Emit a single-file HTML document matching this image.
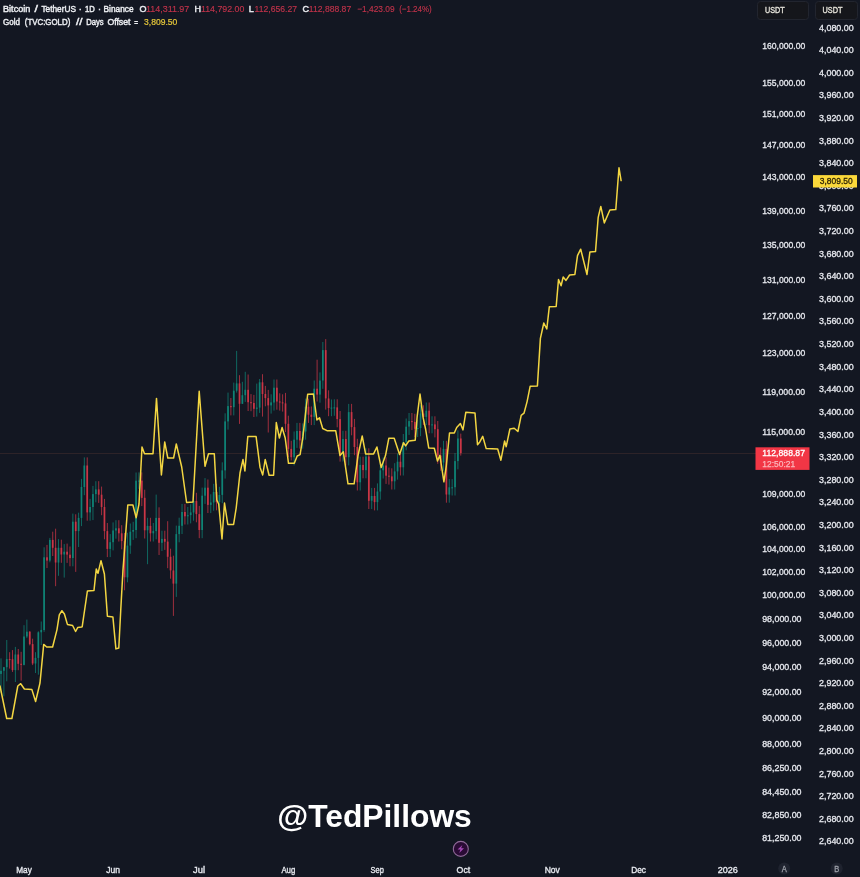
<!DOCTYPE html>
<html lang="en"><head><meta charset="utf-8"><title>BTC vs Gold</title>
<style>
html,body{margin:0;padding:0;background:#131722;}
body{width:860px;height:877px;overflow:hidden;}
svg{display:block;font-family:"Liberation Sans", "DejaVu Sans", sans-serif;}
.ax{font-size:9px;fill:#e6e8ee;stroke:#e6e8ee;stroke-width:0.3px;}
.tm{font-size:9px;fill:#e6e8ee;stroke:#e6e8ee;stroke-width:0.35px;}
.lg{font-size:9px;fill:#eceef2;stroke:#eceef2;stroke-width:0.45px;}
.rd{fill:#c0334a;stroke:#c0334a;stroke-width:0.15px;}
</style></head><body>
<svg width="860" height="877" viewBox="0 0 860 877">
<rect width="860" height="877" fill="#131722"/>

<line x1="0" y1="453.5" x2="756" y2="453.5" stroke="#c06a50" stroke-opacity="0.15" stroke-width="1"/>
<g id="candles" opacity="0.9"><path d="M1.01 658.4V692.9" stroke="#0f8f7f" stroke-width="0.75"/><rect x="0.16" y="670.8" width="1.7" height="3.1" fill="#0f8f7f"/>
<path d="M3.89 666.9V696.4" stroke="#0f8f7f" stroke-width="0.75"/><rect x="3.04" y="667.2" width="1.7" height="3.6" fill="#0f8f7f"/>
<path d="M6.76 640.0V681.3" stroke="#0f8f7f" stroke-width="0.75"/><rect x="5.91" y="659.1" width="1.7" height="8.1" fill="#0f8f7f"/>
<path d="M9.63 652.2V668.6" stroke="#e03a4b" stroke-width="0.75"/><rect x="8.78" y="659.1" width="1.7" height="1.0" fill="#e03a4b"/>
<path d="M12.51 650.1V671.9" stroke="#e03a4b" stroke-width="0.75"/><rect x="11.66" y="659.2" width="1.7" height="10.9" fill="#e03a4b"/>
<path d="M15.38 646.9V682.0" stroke="#0f8f7f" stroke-width="0.75"/><rect x="14.53" y="654.5" width="1.7" height="15.6" fill="#0f8f7f"/>
<path d="M18.25 649.0V670.2" stroke="#e03a4b" stroke-width="0.75"/><rect x="17.40" y="654.5" width="1.7" height="9.3" fill="#e03a4b"/>
<path d="M21.13 651.8V680.6" stroke="#e03a4b" stroke-width="0.75"/><rect x="20.28" y="663.8" width="1.7" height="1.0" fill="#e03a4b"/>
<path d="M24.00 625.2V665.4" stroke="#0f8f7f" stroke-width="0.75"/><rect x="23.15" y="636.5" width="1.7" height="28.4" fill="#0f8f7f"/>
<path d="M26.87 619.6V638.1" stroke="#0f8f7f" stroke-width="0.75"/><rect x="26.02" y="631.7" width="1.7" height="4.8" fill="#0f8f7f"/>
<path d="M29.75 631.1V645.4" stroke="#e03a4b" stroke-width="0.75"/><rect x="28.90" y="631.7" width="1.7" height="12.5" fill="#e03a4b"/>
<path d="M32.62 638.7V665.1" stroke="#e03a4b" stroke-width="0.75"/><rect x="31.77" y="644.1" width="1.7" height="19.4" fill="#e03a4b"/>
<path d="M35.49 652.2V673.0" stroke="#0f8f7f" stroke-width="0.75"/><rect x="34.64" y="657.9" width="1.7" height="5.6" fill="#0f8f7f"/>
<path d="M38.37 631.3V674.7" stroke="#0f8f7f" stroke-width="0.75"/><rect x="37.52" y="632.3" width="1.7" height="25.6" fill="#0f8f7f"/>
<path d="M41.24 621.5V645.0" stroke="#0f8f7f" stroke-width="0.75"/><rect x="40.39" y="629.9" width="1.7" height="2.4" fill="#0f8f7f"/>
<path d="M44.11 547.3V631.8" stroke="#0f8f7f" stroke-width="0.75"/><rect x="43.26" y="557.3" width="1.7" height="72.7" fill="#0f8f7f"/>
<path d="M46.99 544.9V568.0" stroke="#e03a4b" stroke-width="0.75"/><rect x="46.14" y="557.3" width="1.7" height="3.3" fill="#e03a4b"/>
<path d="M49.86 537.9V562.3" stroke="#0f8f7f" stroke-width="0.75"/><rect x="49.01" y="539.9" width="1.7" height="20.7" fill="#0f8f7f"/>
<path d="M52.73 531.7V556.0" stroke="#e03a4b" stroke-width="0.75"/><rect x="51.88" y="539.9" width="1.7" height="7.9" fill="#e03a4b"/>
<path d="M55.61 528.7V586.2" stroke="#e03a4b" stroke-width="0.75"/><rect x="54.76" y="547.8" width="1.7" height="14.7" fill="#e03a4b"/>
<path d="M58.48 539.1V575.8" stroke="#0f8f7f" stroke-width="0.75"/><rect x="57.63" y="547.8" width="1.7" height="14.7" fill="#0f8f7f"/>
<path d="M61.36 539.7V562.8" stroke="#e03a4b" stroke-width="0.75"/><rect x="60.51" y="547.8" width="1.7" height="6.7" fill="#e03a4b"/>
<path d="M64.23 544.1V577.6" stroke="#0f8f7f" stroke-width="0.75"/><rect x="63.38" y="551.7" width="1.7" height="2.8" fill="#0f8f7f"/>
<path d="M67.10 543.6V562.9" stroke="#e03a4b" stroke-width="0.75"/><rect x="66.25" y="551.7" width="1.7" height="2.9" fill="#e03a4b"/>
<path d="M69.98 546.5V566.3" stroke="#e03a4b" stroke-width="0.75"/><rect x="69.13" y="554.7" width="1.7" height="3.4" fill="#e03a4b"/>
<path d="M72.85 513.6V566.3" stroke="#0f8f7f" stroke-width="0.75"/><rect x="72.00" y="521.7" width="1.7" height="36.3" fill="#0f8f7f"/>
<path d="M75.72 514.3V571.9" stroke="#e03a4b" stroke-width="0.75"/><rect x="74.87" y="521.7" width="1.7" height="9.4" fill="#e03a4b"/>
<path d="M78.60 512.7V547.0" stroke="#0f8f7f" stroke-width="0.75"/><rect x="77.75" y="517.9" width="1.7" height="13.2" fill="#0f8f7f"/>
<path d="M81.47 478.9V526.1" stroke="#0f8f7f" stroke-width="0.75"/><rect x="80.62" y="487.0" width="1.7" height="30.9" fill="#0f8f7f"/>
<path d="M84.34 457.4V495.2" stroke="#0f8f7f" stroke-width="0.75"/><rect x="83.49" y="465.5" width="1.7" height="21.5" fill="#0f8f7f"/>
<path d="M87.22 457.4V520.7" stroke="#e03a4b" stroke-width="0.75"/><rect x="86.37" y="465.5" width="1.7" height="46.9" fill="#e03a4b"/>
<path d="M90.09 498.9V520.7" stroke="#0f8f7f" stroke-width="0.75"/><rect x="89.24" y="507.0" width="1.7" height="5.4" fill="#0f8f7f"/>
<path d="M92.96 485.9V520.1" stroke="#0f8f7f" stroke-width="0.75"/><rect x="92.11" y="494.1" width="1.7" height="12.9" fill="#0f8f7f"/>
<path d="M95.84 481.2V502.3" stroke="#0f8f7f" stroke-width="0.75"/><rect x="94.99" y="489.4" width="1.7" height="4.7" fill="#0f8f7f"/>
<path d="M98.71 481.2V502.9" stroke="#e03a4b" stroke-width="0.75"/><rect x="97.86" y="489.4" width="1.7" height="5.3" fill="#e03a4b"/>
<path d="M101.58 486.6V515.2" stroke="#e03a4b" stroke-width="0.75"/><rect x="100.73" y="494.7" width="1.7" height="12.3" fill="#e03a4b"/>
<path d="M104.46 498.9V539.3" stroke="#e03a4b" stroke-width="0.75"/><rect x="103.61" y="507.0" width="1.7" height="24.1" fill="#e03a4b"/>
<path d="M107.33 523.0V557.1" stroke="#e03a4b" stroke-width="0.75"/><rect x="106.48" y="531.1" width="1.7" height="17.8" fill="#e03a4b"/>
<path d="M110.20 534.1V557.1" stroke="#0f8f7f" stroke-width="0.75"/><rect x="109.36" y="542.2" width="1.7" height="6.7" fill="#0f8f7f"/>
<path d="M113.08 522.4V550.4" stroke="#0f8f7f" stroke-width="0.75"/><rect x="112.23" y="530.5" width="1.7" height="11.7" fill="#0f8f7f"/>
<path d="M115.95 520.2V538.7" stroke="#0f8f7f" stroke-width="0.75"/><rect x="115.10" y="528.3" width="1.7" height="2.2" fill="#0f8f7f"/>
<path d="M118.83 520.2V541.5" stroke="#e03a4b" stroke-width="0.75"/><rect x="117.98" y="528.3" width="1.7" height="5.0" fill="#e03a4b"/>
<path d="M121.70 525.2V549.3" stroke="#e03a4b" stroke-width="0.75"/><rect x="120.85" y="533.3" width="1.7" height="7.8" fill="#e03a4b"/>
<path d="M124.57 532.9V590.3" stroke="#e03a4b" stroke-width="0.75"/><rect x="123.72" y="541.1" width="1.7" height="36.2" fill="#e03a4b"/>
<path d="M127.45 532.8V582.3" stroke="#0f8f7f" stroke-width="0.75"/><rect x="126.60" y="545.6" width="1.7" height="31.8" fill="#0f8f7f"/>
<path d="M130.32 523.5V553.8" stroke="#0f8f7f" stroke-width="0.75"/><rect x="129.47" y="531.7" width="1.7" height="13.9" fill="#0f8f7f"/>
<path d="M133.19 521.8V539.9" stroke="#0f8f7f" stroke-width="0.75"/><rect x="132.34" y="530.0" width="1.7" height="1.7" fill="#0f8f7f"/>
<path d="M136.07 472.5V538.2" stroke="#0f8f7f" stroke-width="0.75"/><rect x="135.22" y="480.7" width="1.7" height="49.3" fill="#0f8f7f"/>
<path d="M138.94 472.4V488.9" stroke="#0f8f7f" stroke-width="0.75"/><rect x="138.09" y="480.6" width="1.7" height="1.0" fill="#0f8f7f"/>
<path d="M141.81 472.4V506.1" stroke="#e03a4b" stroke-width="0.75"/><rect x="140.96" y="480.6" width="1.7" height="17.3" fill="#e03a4b"/>
<path d="M144.69 489.7V538.5" stroke="#e03a4b" stroke-width="0.75"/><rect x="143.84" y="497.8" width="1.7" height="32.5" fill="#e03a4b"/>
<path d="M147.56 517.8V564.2" stroke="#0f8f7f" stroke-width="0.75"/><rect x="146.71" y="525.9" width="1.7" height="4.4" fill="#0f8f7f"/>
<path d="M150.43 517.8V541.5" stroke="#e03a4b" stroke-width="0.75"/><rect x="149.58" y="525.9" width="1.7" height="7.4" fill="#e03a4b"/>
<path d="M153.31 523.0V541.5" stroke="#0f8f7f" stroke-width="0.75"/><rect x="152.46" y="531.1" width="1.7" height="2.2" fill="#0f8f7f"/>
<path d="M156.18 494.6V539.3" stroke="#0f8f7f" stroke-width="0.75"/><rect x="155.33" y="517.9" width="1.7" height="13.2" fill="#0f8f7f"/>
<path d="M159.05 507.3V555.0" stroke="#e03a4b" stroke-width="0.75"/><rect x="158.20" y="517.9" width="1.7" height="24.9" fill="#e03a4b"/>
<path d="M161.93 530.7V551.0" stroke="#0f8f7f" stroke-width="0.75"/><rect x="161.08" y="538.9" width="1.7" height="3.9" fill="#0f8f7f"/>
<path d="M164.80 530.7V549.9" stroke="#e03a4b" stroke-width="0.75"/><rect x="163.95" y="538.9" width="1.7" height="2.8" fill="#e03a4b"/>
<path d="M167.68 521.2V568.2" stroke="#e03a4b" stroke-width="0.75"/><rect x="166.83" y="541.6" width="1.7" height="15.2" fill="#e03a4b"/>
<path d="M170.55 548.7V578.7" stroke="#e03a4b" stroke-width="0.75"/><rect x="169.70" y="556.8" width="1.7" height="13.6" fill="#e03a4b"/>
<path d="M173.42 555.7V615.9" stroke="#e03a4b" stroke-width="0.75"/><rect x="172.57" y="570.5" width="1.7" height="13.1" fill="#e03a4b"/>
<path d="M176.30 525.6V596.9" stroke="#0f8f7f" stroke-width="0.75"/><rect x="175.45" y="534.1" width="1.7" height="49.5" fill="#0f8f7f"/>
<path d="M179.17 517.7V542.3" stroke="#0f8f7f" stroke-width="0.75"/><rect x="178.32" y="525.8" width="1.7" height="8.3" fill="#0f8f7f"/>
<path d="M182.04 503.9V534.0" stroke="#0f8f7f" stroke-width="0.75"/><rect x="181.19" y="512.0" width="1.7" height="13.8" fill="#0f8f7f"/>
<path d="M184.92 503.9V524.5" stroke="#e03a4b" stroke-width="0.75"/><rect x="184.07" y="512.0" width="1.7" height="4.3" fill="#e03a4b"/>
<path d="M187.79 507.0V524.5" stroke="#0f8f7f" stroke-width="0.75"/><rect x="186.94" y="515.2" width="1.7" height="1.1" fill="#0f8f7f"/>
<path d="M190.66 504.3V523.4" stroke="#0f8f7f" stroke-width="0.75"/><rect x="189.81" y="512.4" width="1.7" height="2.7" fill="#0f8f7f"/>
<path d="M193.54 492.8V520.7" stroke="#0f8f7f" stroke-width="0.75"/><rect x="192.69" y="501.0" width="1.7" height="11.5" fill="#0f8f7f"/>
<path d="M196.41 492.8V522.3" stroke="#e03a4b" stroke-width="0.75"/><rect x="195.56" y="501.0" width="1.7" height="13.1" fill="#e03a4b"/>
<path d="M199.28 505.9V538.2" stroke="#e03a4b" stroke-width="0.75"/><rect x="198.43" y="514.1" width="1.7" height="15.9" fill="#e03a4b"/>
<path d="M202.16 487.6V538.2" stroke="#0f8f7f" stroke-width="0.75"/><rect x="201.31" y="495.7" width="1.7" height="34.3" fill="#0f8f7f"/>
<path d="M205.03 478.1V503.9" stroke="#0f8f7f" stroke-width="0.75"/><rect x="204.18" y="487.7" width="1.7" height="8.0" fill="#0f8f7f"/>
<path d="M207.90 479.5V513.0" stroke="#e03a4b" stroke-width="0.75"/><rect x="207.05" y="487.7" width="1.7" height="17.2" fill="#e03a4b"/>
<path d="M210.78 494.3V513.1" stroke="#0f8f7f" stroke-width="0.75"/><rect x="209.93" y="502.5" width="1.7" height="2.4" fill="#0f8f7f"/>
<path d="M213.65 483.8V510.7" stroke="#0f8f7f" stroke-width="0.75"/><rect x="212.80" y="492.0" width="1.7" height="10.5" fill="#0f8f7f"/>
<path d="M216.52 483.8V510.3" stroke="#e03a4b" stroke-width="0.75"/><rect x="215.67" y="492.0" width="1.7" height="10.1" fill="#e03a4b"/>
<path d="M219.40 486.8V510.3" stroke="#0f8f7f" stroke-width="0.75"/><rect x="218.55" y="495.0" width="1.7" height="7.1" fill="#0f8f7f"/>
<path d="M222.27 462.3V503.2" stroke="#0f8f7f" stroke-width="0.75"/><rect x="221.42" y="470.4" width="1.7" height="24.5" fill="#0f8f7f"/>
<path d="M225.14 413.3V478.6" stroke="#0f8f7f" stroke-width="0.75"/><rect x="224.29" y="421.4" width="1.7" height="49.0" fill="#0f8f7f"/>
<path d="M228.02 392.6V429.6" stroke="#0f8f7f" stroke-width="0.75"/><rect x="227.17" y="406.1" width="1.7" height="15.3" fill="#0f8f7f"/>
<path d="M230.89 398.0V415.4" stroke="#e03a4b" stroke-width="0.75"/><rect x="230.04" y="406.1" width="1.7" height="1.1" fill="#e03a4b"/>
<path d="M233.77 382.6V415.4" stroke="#0f8f7f" stroke-width="0.75"/><rect x="232.92" y="390.7" width="1.7" height="16.5" fill="#0f8f7f"/>
<path d="M236.64 350.9V392.6" stroke="#0f8f7f" stroke-width="0.75"/><rect x="235.79" y="383.4" width="1.7" height="7.3" fill="#0f8f7f"/>
<path d="M239.51 375.2V423.9" stroke="#e03a4b" stroke-width="0.75"/><rect x="238.66" y="383.4" width="1.7" height="20.4" fill="#e03a4b"/>
<path d="M242.39 381.8V403.9" stroke="#0f8f7f" stroke-width="0.75"/><rect x="241.54" y="395.2" width="1.7" height="8.6" fill="#0f8f7f"/>
<path d="M245.26 371.8V401.9" stroke="#0f8f7f" stroke-width="0.75"/><rect x="244.41" y="389.8" width="1.7" height="5.4" fill="#0f8f7f"/>
<path d="M248.13 374.5V411.0" stroke="#e03a4b" stroke-width="0.75"/><rect x="247.28" y="389.8" width="1.7" height="12.4" fill="#e03a4b"/>
<path d="M251.01 394.1V411.2" stroke="#e03a4b" stroke-width="0.75"/><rect x="250.16" y="402.2" width="1.7" height="1.0" fill="#e03a4b"/>
<path d="M253.88 394.9V417.0" stroke="#e03a4b" stroke-width="0.75"/><rect x="253.03" y="403.0" width="1.7" height="5.8" fill="#e03a4b"/>
<path d="M256.75 383.6V416.6" stroke="#0f8f7f" stroke-width="0.75"/><rect x="255.90" y="407.6" width="1.7" height="1.2" fill="#0f8f7f"/>
<path d="M259.63 379.0V412.9" stroke="#0f8f7f" stroke-width="0.75"/><rect x="258.78" y="382.3" width="1.7" height="25.3" fill="#0f8f7f"/>
<path d="M262.50 374.2V416.6" stroke="#e03a4b" stroke-width="0.75"/><rect x="261.65" y="382.3" width="1.7" height="11.7" fill="#e03a4b"/>
<path d="M265.37 385.9V406.3" stroke="#e03a4b" stroke-width="0.75"/><rect x="264.52" y="394.0" width="1.7" height="4.1" fill="#e03a4b"/>
<path d="M268.25 389.9V432.5" stroke="#e03a4b" stroke-width="0.75"/><rect x="267.40" y="398.1" width="1.7" height="7.3" fill="#e03a4b"/>
<path d="M271.12 394.3V413.6" stroke="#0f8f7f" stroke-width="0.75"/><rect x="270.27" y="402.4" width="1.7" height="3.0" fill="#0f8f7f"/>
<path d="M273.99 379.5V410.6" stroke="#0f8f7f" stroke-width="0.75"/><rect x="273.14" y="387.7" width="1.7" height="14.8" fill="#0f8f7f"/>
<path d="M276.87 379.5V409.7" stroke="#e03a4b" stroke-width="0.75"/><rect x="276.02" y="387.7" width="1.7" height="13.8" fill="#e03a4b"/>
<path d="M279.74 393.3V410.6" stroke="#e03a4b" stroke-width="0.75"/><rect x="278.89" y="401.5" width="1.7" height="1.0" fill="#e03a4b"/>
<path d="M282.62 394.3V411.6" stroke="#e03a4b" stroke-width="0.75"/><rect x="281.76" y="402.4" width="1.7" height="1.0" fill="#e03a4b"/>
<path d="M285.49 392.9V432.0" stroke="#e03a4b" stroke-width="0.75"/><rect x="284.64" y="403.4" width="1.7" height="20.4" fill="#e03a4b"/>
<path d="M288.36 415.7V457.1" stroke="#e03a4b" stroke-width="0.75"/><rect x="287.51" y="423.8" width="1.7" height="25.1" fill="#e03a4b"/>
<path d="M291.24 440.8V460.5" stroke="#e03a4b" stroke-width="0.75"/><rect x="290.39" y="448.9" width="1.7" height="8.3" fill="#e03a4b"/>
<path d="M294.11 431.5V465.4" stroke="#0f8f7f" stroke-width="0.75"/><rect x="293.26" y="439.7" width="1.7" height="17.5" fill="#0f8f7f"/>
<path d="M296.98 422.9V447.9" stroke="#0f8f7f" stroke-width="0.75"/><rect x="296.13" y="431.0" width="1.7" height="8.7" fill="#0f8f7f"/>
<path d="M299.86 422.9V448.6" stroke="#e03a4b" stroke-width="0.75"/><rect x="299.01" y="431.0" width="1.7" height="9.4" fill="#e03a4b"/>
<path d="M302.73 423.4V448.6" stroke="#0f8f7f" stroke-width="0.75"/><rect x="301.88" y="431.5" width="1.7" height="8.9" fill="#0f8f7f"/>
<path d="M305.60 398.6V439.7" stroke="#0f8f7f" stroke-width="0.75"/><rect x="304.75" y="406.7" width="1.7" height="24.8" fill="#0f8f7f"/>
<path d="M308.48 398.6V422.9" stroke="#e03a4b" stroke-width="0.75"/><rect x="307.63" y="406.7" width="1.7" height="8.0" fill="#e03a4b"/>
<path d="M311.35 406.5V425.1" stroke="#e03a4b" stroke-width="0.75"/><rect x="310.50" y="414.7" width="1.7" height="2.2" fill="#e03a4b"/>
<path d="M314.22 380.5V425.1" stroke="#0f8f7f" stroke-width="0.75"/><rect x="313.37" y="388.7" width="1.7" height="28.2" fill="#0f8f7f"/>
<path d="M317.10 359.7V401.5" stroke="#e03a4b" stroke-width="0.75"/><rect x="316.25" y="388.7" width="1.7" height="5.9" fill="#e03a4b"/>
<path d="M319.97 372.4V402.7" stroke="#0f8f7f" stroke-width="0.75"/><rect x="319.12" y="380.6" width="1.7" height="14.0" fill="#0f8f7f"/>
<path d="M322.84 342.0V388.8" stroke="#0f8f7f" stroke-width="0.75"/><rect x="321.99" y="350.1" width="1.7" height="30.4" fill="#0f8f7f"/>
<path d="M325.72 339.1V409.6" stroke="#e03a4b" stroke-width="0.75"/><rect x="324.87" y="350.1" width="1.7" height="48.3" fill="#e03a4b"/>
<path d="M328.59 390.3V416.2" stroke="#e03a4b" stroke-width="0.75"/><rect x="327.74" y="398.5" width="1.7" height="9.5" fill="#e03a4b"/>
<path d="M331.46 399.5V416.2" stroke="#0f8f7f" stroke-width="0.75"/><rect x="330.61" y="407.6" width="1.7" height="1.0" fill="#0f8f7f"/>
<path d="M334.34 399.3V415.8" stroke="#0f8f7f" stroke-width="0.75"/><rect x="333.49" y="407.4" width="1.7" height="1.0" fill="#0f8f7f"/>
<path d="M337.21 399.3V427.3" stroke="#e03a4b" stroke-width="0.75"/><rect x="336.36" y="407.4" width="1.7" height="11.7" fill="#e03a4b"/>
<path d="M340.08 411.0V461.6" stroke="#e03a4b" stroke-width="0.75"/><rect x="339.23" y="419.1" width="1.7" height="34.3" fill="#e03a4b"/>
<path d="M342.96 430.8V461.6" stroke="#0f8f7f" stroke-width="0.75"/><rect x="342.11" y="439.0" width="1.7" height="14.4" fill="#0f8f7f"/>
<path d="M345.83 430.8V465.4" stroke="#e03a4b" stroke-width="0.75"/><rect x="344.98" y="439.0" width="1.7" height="18.2" fill="#e03a4b"/>
<path d="M348.71 403.9V465.4" stroke="#0f8f7f" stroke-width="0.75"/><rect x="347.86" y="412.1" width="1.7" height="45.1" fill="#0f8f7f"/>
<path d="M351.58 403.9V435.3" stroke="#e03a4b" stroke-width="0.75"/><rect x="350.73" y="412.1" width="1.7" height="15.0" fill="#e03a4b"/>
<path d="M354.45 418.9V455.2" stroke="#e03a4b" stroke-width="0.75"/><rect x="353.60" y="427.1" width="1.7" height="19.9" fill="#e03a4b"/>
<path d="M357.33 438.8V490.5" stroke="#e03a4b" stroke-width="0.75"/><rect x="356.48" y="447.0" width="1.7" height="35.3" fill="#e03a4b"/>
<path d="M360.20 456.7V490.5" stroke="#0f8f7f" stroke-width="0.75"/><rect x="359.35" y="464.9" width="1.7" height="17.4" fill="#0f8f7f"/>
<path d="M363.07 456.7V478.3" stroke="#e03a4b" stroke-width="0.75"/><rect x="362.22" y="464.9" width="1.7" height="5.2" fill="#e03a4b"/>
<path d="M365.95 448.3V478.3" stroke="#0f8f7f" stroke-width="0.75"/><rect x="365.10" y="456.5" width="1.7" height="13.7" fill="#0f8f7f"/>
<path d="M368.82 448.3V509.0" stroke="#e03a4b" stroke-width="0.75"/><rect x="367.97" y="456.5" width="1.7" height="44.3" fill="#e03a4b"/>
<path d="M371.69 487.9V509.0" stroke="#0f8f7f" stroke-width="0.75"/><rect x="370.84" y="496.0" width="1.7" height="4.7" fill="#0f8f7f"/>
<path d="M374.57 487.9V510.4" stroke="#e03a4b" stroke-width="0.75"/><rect x="373.72" y="496.0" width="1.7" height="6.1" fill="#e03a4b"/>
<path d="M377.44 483.4V510.4" stroke="#0f8f7f" stroke-width="0.75"/><rect x="376.59" y="491.5" width="1.7" height="10.6" fill="#0f8f7f"/>
<path d="M380.31 462.2V499.7" stroke="#0f8f7f" stroke-width="0.75"/><rect x="379.46" y="470.3" width="1.7" height="21.2" fill="#0f8f7f"/>
<path d="M383.19 457.4V478.5" stroke="#0f8f7f" stroke-width="0.75"/><rect x="382.34" y="465.5" width="1.7" height="4.8" fill="#0f8f7f"/>
<path d="M386.06 457.4V483.9" stroke="#e03a4b" stroke-width="0.75"/><rect x="385.21" y="465.5" width="1.7" height="10.2" fill="#e03a4b"/>
<path d="M388.93 467.6V484.6" stroke="#e03a4b" stroke-width="0.75"/><rect x="388.08" y="475.7" width="1.7" height="1.0" fill="#e03a4b"/>
<path d="M391.81 468.3V489.5" stroke="#e03a4b" stroke-width="0.75"/><rect x="390.96" y="476.4" width="1.7" height="4.9" fill="#e03a4b"/>
<path d="M394.68 463.2V489.5" stroke="#0f8f7f" stroke-width="0.75"/><rect x="393.83" y="471.4" width="1.7" height="9.9" fill="#0f8f7f"/>
<path d="M397.56 453.5V479.6" stroke="#0f8f7f" stroke-width="0.75"/><rect x="396.70" y="461.7" width="1.7" height="9.7" fill="#0f8f7f"/>
<path d="M400.43 453.5V475.5" stroke="#e03a4b" stroke-width="0.75"/><rect x="399.58" y="461.7" width="1.7" height="5.6" fill="#e03a4b"/>
<path d="M403.30 434.0V475.5" stroke="#0f8f7f" stroke-width="0.75"/><rect x="402.45" y="442.1" width="1.7" height="25.2" fill="#0f8f7f"/>
<path d="M406.18 418.5V450.3" stroke="#0f8f7f" stroke-width="0.75"/><rect x="405.33" y="426.7" width="1.7" height="15.5" fill="#0f8f7f"/>
<path d="M409.05 413.0V434.9" stroke="#0f8f7f" stroke-width="0.75"/><rect x="408.20" y="421.1" width="1.7" height="5.5" fill="#0f8f7f"/>
<path d="M411.92 413.0V430.1" stroke="#e03a4b" stroke-width="0.75"/><rect x="411.07" y="421.1" width="1.7" height="1.0" fill="#e03a4b"/>
<path d="M414.80 413.8V437.0" stroke="#e03a4b" stroke-width="0.75"/><rect x="413.95" y="421.9" width="1.7" height="6.9" fill="#e03a4b"/>
<path d="M417.67 419.8V437.0" stroke="#0f8f7f" stroke-width="0.75"/><rect x="416.82" y="428.0" width="1.7" height="1.0" fill="#0f8f7f"/>
<path d="M420.54 405.3V436.2" stroke="#0f8f7f" stroke-width="0.75"/><rect x="419.69" y="413.5" width="1.7" height="14.5" fill="#0f8f7f"/>
<path d="M423.42 405.3V425.1" stroke="#e03a4b" stroke-width="0.75"/><rect x="422.57" y="413.5" width="1.7" height="3.4" fill="#e03a4b"/>
<path d="M426.29 402.5V425.1" stroke="#0f8f7f" stroke-width="0.75"/><rect x="425.44" y="410.7" width="1.7" height="6.2" fill="#0f8f7f"/>
<path d="M429.16 402.5V433.3" stroke="#e03a4b" stroke-width="0.75"/><rect x="428.31" y="410.7" width="1.7" height="14.5" fill="#e03a4b"/>
<path d="M432.04 416.3V433.3" stroke="#0f8f7f" stroke-width="0.75"/><rect x="431.19" y="424.4" width="1.7" height="1.0" fill="#0f8f7f"/>
<path d="M434.91 416.3V437.4" stroke="#e03a4b" stroke-width="0.75"/><rect x="434.06" y="424.4" width="1.7" height="4.8" fill="#e03a4b"/>
<path d="M437.78 421.0V463.8" stroke="#e03a4b" stroke-width="0.75"/><rect x="436.93" y="429.2" width="1.7" height="26.4" fill="#e03a4b"/>
<path d="M440.66 447.5V470.7" stroke="#e03a4b" stroke-width="0.75"/><rect x="439.81" y="455.6" width="1.7" height="6.9" fill="#e03a4b"/>
<path d="M443.53 440.8V470.7" stroke="#0f8f7f" stroke-width="0.75"/><rect x="442.68" y="448.9" width="1.7" height="13.6" fill="#0f8f7f"/>
<path d="M446.40 440.8V502.7" stroke="#e03a4b" stroke-width="0.75"/><rect x="445.55" y="448.9" width="1.7" height="45.6" fill="#e03a4b"/>
<path d="M449.28 479.1V502.7" stroke="#0f8f7f" stroke-width="0.75"/><rect x="448.43" y="487.3" width="1.7" height="7.3" fill="#0f8f7f"/>
<path d="M452.15 479.1V495.5" stroke="#0f8f7f" stroke-width="0.75"/><rect x="451.30" y="487.3" width="1.7" height="1.0" fill="#0f8f7f"/>
<path d="M455.02 453.0V495.5" stroke="#0f8f7f" stroke-width="0.75"/><rect x="454.17" y="461.1" width="1.7" height="26.1" fill="#0f8f7f"/>
<path d="M457.90 430.4V469.3" stroke="#0f8f7f" stroke-width="0.75"/><rect x="457.05" y="438.5" width="1.7" height="22.6" fill="#0f8f7f"/>
<path d="M460.77 433.6V455.6" stroke="#e03a4b" stroke-width="0.75"/><rect x="459.92" y="438.5" width="1.7" height="14.6" fill="#e03a4b"/></g>
<polyline points="0.0,686.0 6.7,718.5 11.9,718.5 17.8,686.0 20.7,683.7 24.4,689.0 31.9,689.6 35.6,701.5 40.0,683.0 43.7,644.4 46.7,647.0 52.6,647.0 57.0,629.6 59.3,614.8 61.9,610.7 64.4,614.0 67.4,624.4 72.6,625.5 75.6,631.5 77.8,627.4 81.5,627.0 82.2,626.7 87.4,591.0 94.0,590.4 96.3,568.9 98.0,573.3 101.0,560.7 104.4,574.0 107.4,616.3 112.9,617.0 115.9,648.9 118.8,648.0 120.7,611.0 123.0,569.6 124.5,550.0 127.8,505.0 132.9,505.0 136.2,517.7 139.0,504.0 142.0,446.9 144.5,453.7 153.0,453.7 156.5,398.4 161.4,475.0 164.7,442.0 167.8,458.0 173.6,458.0 176.3,444.0 181.7,467.0 186.6,502.5 193.0,502.0 199.2,391.2 205.0,466.3 208.5,453.7 214.3,453.7 216.8,500.0 218.7,504.0 222.0,539.0 224.5,503.0 227.8,524.4 233.6,524.4 236.2,508.0 240.0,473.0 243.0,459.5 244.9,471.0 247.8,436.6 256.1,436.6 260.0,467.2 262.7,475.0 265.2,459.5 269.1,475.3 273.6,475.3 276.3,422.6 279.4,438.0 282.1,427.5 285.2,438.0 288.5,463.3 294.3,463.3 297.2,456.0 300.1,454.6 303.0,436.2 307.7,394.2 313.4,394.0 316.9,420.0 319.5,417.7 322.7,428.5 327.0,430.7 335.7,430.7 340.0,455.6 343.3,451.7 348.0,483.8 354.1,483.8 358.0,455.6 362.2,436.0 365.6,453.9 373.6,453.9 376.9,447.0 381.2,467.5 385.5,455.6 388.8,438.3 394.2,438.3 399.6,454.5 403.5,442.7 405.6,445.9 408.8,441.0 415.2,440.3 417.2,416.3 420.0,394.0 423.2,417.9 425.6,429.0 428.7,447.9 434.3,448.2 437.5,461.0 439.9,455.4 443.9,481.8 446.3,465.8 449.5,433.0 454.3,433.0 456.7,427.5 460.4,423.5 463.0,429.9 465.8,412.3 475.0,413.0 477.5,444.7 479.8,441.9 482.7,436.3 486.2,448.6 497.7,449.0 500.9,460.2 504.6,441.0 506.2,446.7 509.9,429.0 514.2,428.3 517.9,431.5 521.2,415.4 524.0,413.2 527.1,401.6 530.2,386.2 537.4,385.9 540.4,338.4 543.8,323.0 546.8,329.0 549.3,306.8 556.2,306.4 558.5,279.5 561.1,285.7 563.2,277.0 566.0,280.4 569.6,275.0 574.9,274.4 577.5,255.6 580.7,249.2 587.0,274.5 589.9,252.0 595.5,251.6 598.2,217.3 600.8,206.4 604.3,222.9 609.9,210.0 615.8,209.6 617.4,188.5 619.0,167.8 621.1,180.6" fill="none" stroke="#f3d642" stroke-width="1.5" stroke-linejoin="round" stroke-linecap="round"/>
<text class="ax" x="762.2" y="49.2" textLength="43" lengthAdjust="spacingAndGlyphs">160,000.00</text>
<text class="ax" x="762.2" y="86.3" textLength="43" lengthAdjust="spacingAndGlyphs">155,000.00</text>
<text class="ax" x="762.2" y="116.8" textLength="43" lengthAdjust="spacingAndGlyphs">151,000.00</text>
<text class="ax" x="762.2" y="148.2" textLength="43" lengthAdjust="spacingAndGlyphs">147,000.00</text>
<text class="ax" x="762.2" y="180.4" textLength="43" lengthAdjust="spacingAndGlyphs">143,000.00</text>
<text class="ax" x="762.2" y="213.5" textLength="43" lengthAdjust="spacingAndGlyphs">139,000.00</text>
<text class="ax" x="762.2" y="247.6" textLength="43" lengthAdjust="spacingAndGlyphs">135,000.00</text>
<text class="ax" x="762.2" y="282.7" textLength="43" lengthAdjust="spacingAndGlyphs">131,000.00</text>
<text class="ax" x="762.2" y="318.9" textLength="43" lengthAdjust="spacingAndGlyphs">127,000.00</text>
<text class="ax" x="762.2" y="356.3" textLength="43" lengthAdjust="spacingAndGlyphs">123,000.00</text>
<text class="ax" x="762.2" y="394.9" textLength="43" lengthAdjust="spacingAndGlyphs">119,000.00</text>
<text class="ax" x="762.2" y="434.8" textLength="43" lengthAdjust="spacingAndGlyphs">115,000.00</text>
<text class="ax" x="762.2" y="497.4" textLength="43" lengthAdjust="spacingAndGlyphs">109,000.00</text>
<text class="ax" x="762.2" y="530.0" textLength="43" lengthAdjust="spacingAndGlyphs">106,000.00</text>
<text class="ax" x="762.2" y="552.2" textLength="43" lengthAdjust="spacingAndGlyphs">104,000.00</text>
<text class="ax" x="762.2" y="574.9" textLength="43" lengthAdjust="spacingAndGlyphs">102,000.00</text>
<text class="ax" x="762.2" y="598.0" textLength="43" lengthAdjust="spacingAndGlyphs">100,000.00</text>
<text class="ax" x="762.2" y="621.6" textLength="39.3" lengthAdjust="spacingAndGlyphs">98,000.00</text>
<text class="ax" x="762.2" y="645.7" textLength="39.3" lengthAdjust="spacingAndGlyphs">96,000.00</text>
<text class="ax" x="762.2" y="670.3" textLength="39.3" lengthAdjust="spacingAndGlyphs">94,000.00</text>
<text class="ax" x="762.2" y="695.4" textLength="39.3" lengthAdjust="spacingAndGlyphs">92,000.00</text>
<text class="ax" x="762.2" y="721.1" textLength="39.3" lengthAdjust="spacingAndGlyphs">90,000.00</text>
<text class="ax" x="762.2" y="747.3" textLength="39.3" lengthAdjust="spacingAndGlyphs">88,000.00</text>
<text class="ax" x="762.2" y="770.7" textLength="39.3" lengthAdjust="spacingAndGlyphs">86,250.00</text>
<text class="ax" x="762.2" y="795.4" textLength="39.3" lengthAdjust="spacingAndGlyphs">84,450.00</text>
<text class="ax" x="762.2" y="817.7" textLength="39.3" lengthAdjust="spacingAndGlyphs">82,850.00</text>
<text class="ax" x="762.2" y="840.5" textLength="39.3" lengthAdjust="spacingAndGlyphs">81,250.00</text>
<text class="ax" x="819" y="30.6" textLength="34.7" lengthAdjust="spacingAndGlyphs">4,080.00</text>
<text class="ax" x="819" y="53.2" textLength="34.7" lengthAdjust="spacingAndGlyphs">4,040.00</text>
<text class="ax" x="819" y="75.8" textLength="34.7" lengthAdjust="spacingAndGlyphs">4,000.00</text>
<text class="ax" x="819" y="98.4" textLength="34.7" lengthAdjust="spacingAndGlyphs">3,960.00</text>
<text class="ax" x="819" y="121.0" textLength="34.7" lengthAdjust="spacingAndGlyphs">3,920.00</text>
<text class="ax" x="819" y="143.6" textLength="34.7" lengthAdjust="spacingAndGlyphs">3,880.00</text>
<text class="ax" x="819" y="166.2" textLength="34.7" lengthAdjust="spacingAndGlyphs">3,840.00</text>
<text class="ax" x="819" y="188.8" textLength="34.7" lengthAdjust="spacingAndGlyphs">3,800.00</text>
<text class="ax" x="819" y="211.4" textLength="34.7" lengthAdjust="spacingAndGlyphs">3,760.00</text>
<text class="ax" x="819" y="234.0" textLength="34.7" lengthAdjust="spacingAndGlyphs">3,720.00</text>
<text class="ax" x="819" y="256.6" textLength="34.7" lengthAdjust="spacingAndGlyphs">3,680.00</text>
<text class="ax" x="819" y="279.2" textLength="34.7" lengthAdjust="spacingAndGlyphs">3,640.00</text>
<text class="ax" x="819" y="301.8" textLength="34.7" lengthAdjust="spacingAndGlyphs">3,600.00</text>
<text class="ax" x="819" y="324.4" textLength="34.7" lengthAdjust="spacingAndGlyphs">3,560.00</text>
<text class="ax" x="819" y="347.0" textLength="34.7" lengthAdjust="spacingAndGlyphs">3,520.00</text>
<text class="ax" x="819" y="369.6" textLength="34.7" lengthAdjust="spacingAndGlyphs">3,480.00</text>
<text class="ax" x="819" y="392.2" textLength="34.7" lengthAdjust="spacingAndGlyphs">3,440.00</text>
<text class="ax" x="819" y="414.9" textLength="34.7" lengthAdjust="spacingAndGlyphs">3,400.00</text>
<text class="ax" x="819" y="437.5" textLength="34.7" lengthAdjust="spacingAndGlyphs">3,360.00</text>
<text class="ax" x="819" y="460.1" textLength="34.7" lengthAdjust="spacingAndGlyphs">3,320.00</text>
<text class="ax" x="819" y="482.7" textLength="34.7" lengthAdjust="spacingAndGlyphs">3,280.00</text>
<text class="ax" x="819" y="505.3" textLength="34.7" lengthAdjust="spacingAndGlyphs">3,240.00</text>
<text class="ax" x="819" y="527.9" textLength="34.7" lengthAdjust="spacingAndGlyphs">3,200.00</text>
<text class="ax" x="819" y="550.5" textLength="34.7" lengthAdjust="spacingAndGlyphs">3,160.00</text>
<text class="ax" x="819" y="573.1" textLength="34.7" lengthAdjust="spacingAndGlyphs">3,120.00</text>
<text class="ax" x="819" y="595.7" textLength="34.7" lengthAdjust="spacingAndGlyphs">3,080.00</text>
<text class="ax" x="819" y="618.3" textLength="34.7" lengthAdjust="spacingAndGlyphs">3,040.00</text>
<text class="ax" x="819" y="640.9" textLength="34.7" lengthAdjust="spacingAndGlyphs">3,000.00</text>
<text class="ax" x="819" y="663.5" textLength="34.7" lengthAdjust="spacingAndGlyphs">2,960.00</text>
<text class="ax" x="819" y="686.1" textLength="34.7" lengthAdjust="spacingAndGlyphs">2,920.00</text>
<text class="ax" x="819" y="708.7" textLength="34.7" lengthAdjust="spacingAndGlyphs">2,880.00</text>
<text class="ax" x="819" y="731.3" textLength="34.7" lengthAdjust="spacingAndGlyphs">2,840.00</text>
<text class="ax" x="819" y="753.9" textLength="34.7" lengthAdjust="spacingAndGlyphs">2,800.00</text>
<text class="ax" x="819" y="776.5" textLength="34.7" lengthAdjust="spacingAndGlyphs">2,760.00</text>
<text class="ax" x="819" y="799.1" textLength="34.7" lengthAdjust="spacingAndGlyphs">2,720.00</text>
<text class="ax" x="819" y="821.7" textLength="34.7" lengthAdjust="spacingAndGlyphs">2,680.00</text>
<text class="ax" x="819" y="844.3" textLength="34.7" lengthAdjust="spacingAndGlyphs">2,640.00</text>
<rect x="757.5" y="1.5" width="51" height="18" rx="3" fill="#15161b" stroke="#22252f"/>
<rect x="815.5" y="1.5" width="42" height="18" rx="3" fill="#15161b" stroke="#22252f"/>
<text class="ax" x="765" y="13.2" textLength="19.6" lengthAdjust="spacingAndGlyphs" style="stroke-width:0.45px;fill:#dfddd4;stroke:#dfddd4">USDT</text>
<text class="ax" x="822.6" y="13.2" textLength="19.9" lengthAdjust="spacingAndGlyphs" style="stroke-width:0.45px;fill:#dfddd4;stroke:#dfddd4">USDT</text>
<rect x="813" y="175.1" width="44" height="12.4" fill="#fbd83a"/>
<text x="819.8" y="184.2" font-size="9" fill="#2e2506" stroke="#2e2506" stroke-width="0.3" textLength="32.9" lengthAdjust="spacingAndGlyphs">3,809.50</text>
<rect x="755.5" y="447.3" width="54" height="22.6" fill="#f23645"/>
<text x="762.3" y="456.3" font-size="9" fill="#ffffff" stroke="#ffffff" stroke-width="0.3" textLength="42.7" lengthAdjust="spacingAndGlyphs">112,888.87</text>
<text x="762.3" y="466.6" font-size="9" fill="#fbb6bb" stroke="#fbb6bb" stroke-width="0.25" textLength="32.8" lengthAdjust="spacingAndGlyphs">12:50:21</text>
<text class="tm" x="16.25" y="872.7" textLength="15.5" lengthAdjust="spacingAndGlyphs">May</text>
<text class="tm" x="106.25" y="872.7" textLength="13.75" lengthAdjust="spacingAndGlyphs">Jun</text>
<text class="tm" x="193" y="872.7" textLength="12" lengthAdjust="spacingAndGlyphs">Jul</text>
<text class="tm" x="281.4" y="872.7" textLength="13.9" lengthAdjust="spacingAndGlyphs">Aug</text>
<text class="tm" x="370.5" y="872.7" textLength="13.3" lengthAdjust="spacingAndGlyphs">Sep</text>
<text class="tm" x="456.6" y="872.7" textLength="13.6" lengthAdjust="spacingAndGlyphs">Oct</text>
<text class="tm" x="544.7" y="872.7" textLength="15.2" lengthAdjust="spacingAndGlyphs">Nov</text>
<text class="tm" x="631.2" y="872.7" textLength="14.8" lengthAdjust="spacingAndGlyphs">Dec</text>
<text class="tm" x="717.7" y="872.7" textLength="20.2" lengthAdjust="spacingAndGlyphs">2026</text>
<circle cx="784.2" cy="868.6" r="6" fill="#1f232f"/><text x="781.7" y="871.8" font-size="8.6" fill="#9ea1aa" stroke="#9ea1aa" stroke-width="0.3" textLength="5" lengthAdjust="spacingAndGlyphs">A</text>
<circle cx="836.7" cy="868.6" r="6" fill="#1f232f"/><text x="834.2" y="871.8" font-size="8.6" fill="#9ea1aa" stroke="#9ea1aa" stroke-width="0.3" textLength="5" lengthAdjust="spacingAndGlyphs">B</text>
<g transform="translate(460.8 848.9)"><circle r="7.5" fill="#2a0b35" stroke="#8f6a98" stroke-width="1.1"/><path d="M1.6 -4.0 L-3.2 0.7 H-0.3 L-1.6 4.0 L3.2 -0.7 H0.3 Z" fill="#a64bb8"/></g>
<text x="277.2" y="826.8" font-size="31.5" font-weight="bold" fill="#ffffff" textLength="194.6" lengthAdjust="spacingAndGlyphs">@TedPillows</text>
<text class="lg " x="3.1" y="12.3" textLength="27.1" lengthAdjust="spacingAndGlyphs">Bitcoin</text>
<text class="lg " x="34.5" y="12.3" textLength="3.4" lengthAdjust="spacingAndGlyphs">/</text>
<text class="lg " x="41.4" y="12.3" textLength="34.6" lengthAdjust="spacingAndGlyphs">TetherUS</text>
<text class="lg " x="78.8" y="12.3">·</text>
<text class="lg " x="84.9" y="12.3" textLength="9.8" lengthAdjust="spacingAndGlyphs">1D</text>
<text class="lg " x="98" y="12.3">·</text>
<text class="lg " x="103.6" y="12.3" textLength="29.9" lengthAdjust="spacingAndGlyphs">Binance</text>
<text class="lg " x="139.4" y="12.3">O</text>
<text class="lg rd" x="146" y="12.3" textLength="43.3" lengthAdjust="spacingAndGlyphs">114,311.97</text>
<text class="lg " x="194.5" y="12.3">H</text>
<text class="lg rd" x="201" y="12.3" textLength="43.3" lengthAdjust="spacingAndGlyphs">114,792.00</text>
<text class="lg " x="248.7" y="12.3">L</text>
<text class="lg rd" x="254.5" y="12.3" textLength="42.5" lengthAdjust="spacingAndGlyphs">112,656.27</text>
<text class="lg " x="302.4" y="12.3">C</text>
<text class="lg rd" x="308.8" y="12.3" textLength="42.4" lengthAdjust="spacingAndGlyphs">112,888.87</text>
<text class="lg rd" x="357.2" y="12.3" textLength="37.4" lengthAdjust="spacingAndGlyphs">−1,423.09</text>
<text class="lg rd" x="399.2" y="12.3" textLength="32.5" lengthAdjust="spacingAndGlyphs">(−1.24%)</text>
<text class="lg " x="3.1" y="25.0" textLength="16.9" lengthAdjust="spacingAndGlyphs">Gold</text>
<text class="lg " x="24.8" y="25.0" textLength="45.5" lengthAdjust="spacingAndGlyphs">(TVC:GOLD)</text>
<text class="lg " x="76" y="25.0" textLength="6.4" lengthAdjust="spacingAndGlyphs">//</text>
<text class="lg " x="86.2" y="25.0" textLength="17.4" lengthAdjust="spacingAndGlyphs">Days</text>
<text class="lg " x="107.4" y="25.0" textLength="23.1" lengthAdjust="spacingAndGlyphs">Offset</text>
<text class="lg " x="134.3" y="25.0" textLength="3.8" lengthAdjust="spacingAndGlyphs">=</text>
<text class="lg" x="144" y="25.0" style="fill:#e8c93a;stroke:#e8c93a;stroke-width:0.2px" textLength="33.3" lengthAdjust="spacingAndGlyphs">3,809.50</text>
</svg></body></html>
